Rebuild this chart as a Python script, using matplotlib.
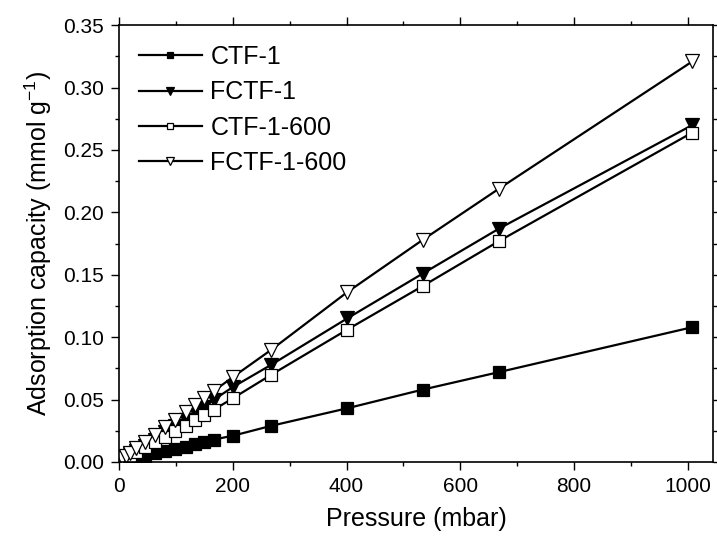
import numpy as np
import matplotlib as mpl
import matplotlib.pyplot as plt

mpl.rcParams["font.family"] = ["Liberation Sans", "DejaVu Sans"]
mpl.rcParams["mathtext.fontset"] = "custom"
mpl.rcParams["mathtext.rm"] = "Liberation Sans"
mpl.rcParams["mathtext.it"] = "Liberation Sans:italic"

# pressure points (mbar)
pressure = [5, 12, 19, 30, 45, 63, 81, 99, 117, 134, 150, 167, 200, 268, 401, 534, 668, 1008]

ctf1 = [0.000, 0.001, 0.002, 0.003, 0.005, 0.007, 0.009, 0.010, 0.012, 0.014,
        0.016, 0.018, 0.021, 0.029, 0.043, 0.058, 0.072, 0.108]
fctf1 = [0.002, 0.004, 0.006, 0.009, 0.013, 0.018, 0.024, 0.029, 0.034, 0.040,
         0.044, 0.050, 0.060, 0.078, 0.115, 0.151, 0.187, 0.270]
ctf1_600 = [0.001, 0.003, 0.005, 0.008, 0.012, 0.016, 0.020, 0.025, 0.029, 0.034,
            0.038, 0.042, 0.051, 0.070, 0.106, 0.141, 0.177, 0.264]
fctf1_600 = [0.003, 0.005, 0.007, 0.011, 0.016, 0.022, 0.028, 0.034, 0.040, 0.046,
             0.051, 0.057, 0.068, 0.090, 0.136, 0.178, 0.219, 0.321]

series = [
    ("CTF-1", ctf1, "s", "black"),
    ("FCTF-1", fctf1, "v", "black"),
    ("CTF-1-600", ctf1_600, "s", "white"),
    ("FCTF-1-600", fctf1_600, "v", "white"),
]

fig = plt.figure(figsize=(7.17, 5.48), dpi=100)
ax = fig.add_axes([0.166, 0.157, 0.829, 0.797])

for label, vals, marker, face in series:
    ax.plot(pressure, vals, color="black", lw=1.6, marker=marker,
            markersize=8 if marker == "s" else 9.5,
            markerfacecolor=face, markeredgecolor="black", markeredgewidth=0.9,
            label=label)

ax.set_xlim(0, 1045)
ax.set_ylim(0, 0.35)
ax.set_xticks(np.arange(0, 1001, 200))
ax.set_yticks(np.arange(0, 0.351, 0.05))
ax.xaxis.set_minor_locator(mpl.ticker.MultipleLocator(100))
ax.yaxis.set_minor_locator(mpl.ticker.MultipleLocator(0.025))
ax.yaxis.set_major_formatter(mpl.ticker.StrMethodFormatter("{x:.2f}"))

ax.tick_params(which="both", direction="out", top=True, right=True,
               labelsize=15, width=1)
ax.tick_params(which="major", length=6, pad=5)
ax.tick_params(which="minor", length=3)
for s in ax.spines.values():
    s.set_linewidth(1.2)

ax.set_xlabel("Pressure (mbar)", fontsize=18, labelpad=8)
ax.set_ylabel("Adsorption capacity (mmol g$^{-1}$)", fontsize=18, labelpad=6)

ax.legend(loc="upper left", frameon=False, fontsize=18, handlelength=2.5,
          markerscale=0.6, labelspacing=0.45, handletextpad=0.35,
          bbox_to_anchor=(0.0, 1.0), borderaxespad=0.5, borderpad=0.3)

fig.savefig("out.png", dpi=100)
